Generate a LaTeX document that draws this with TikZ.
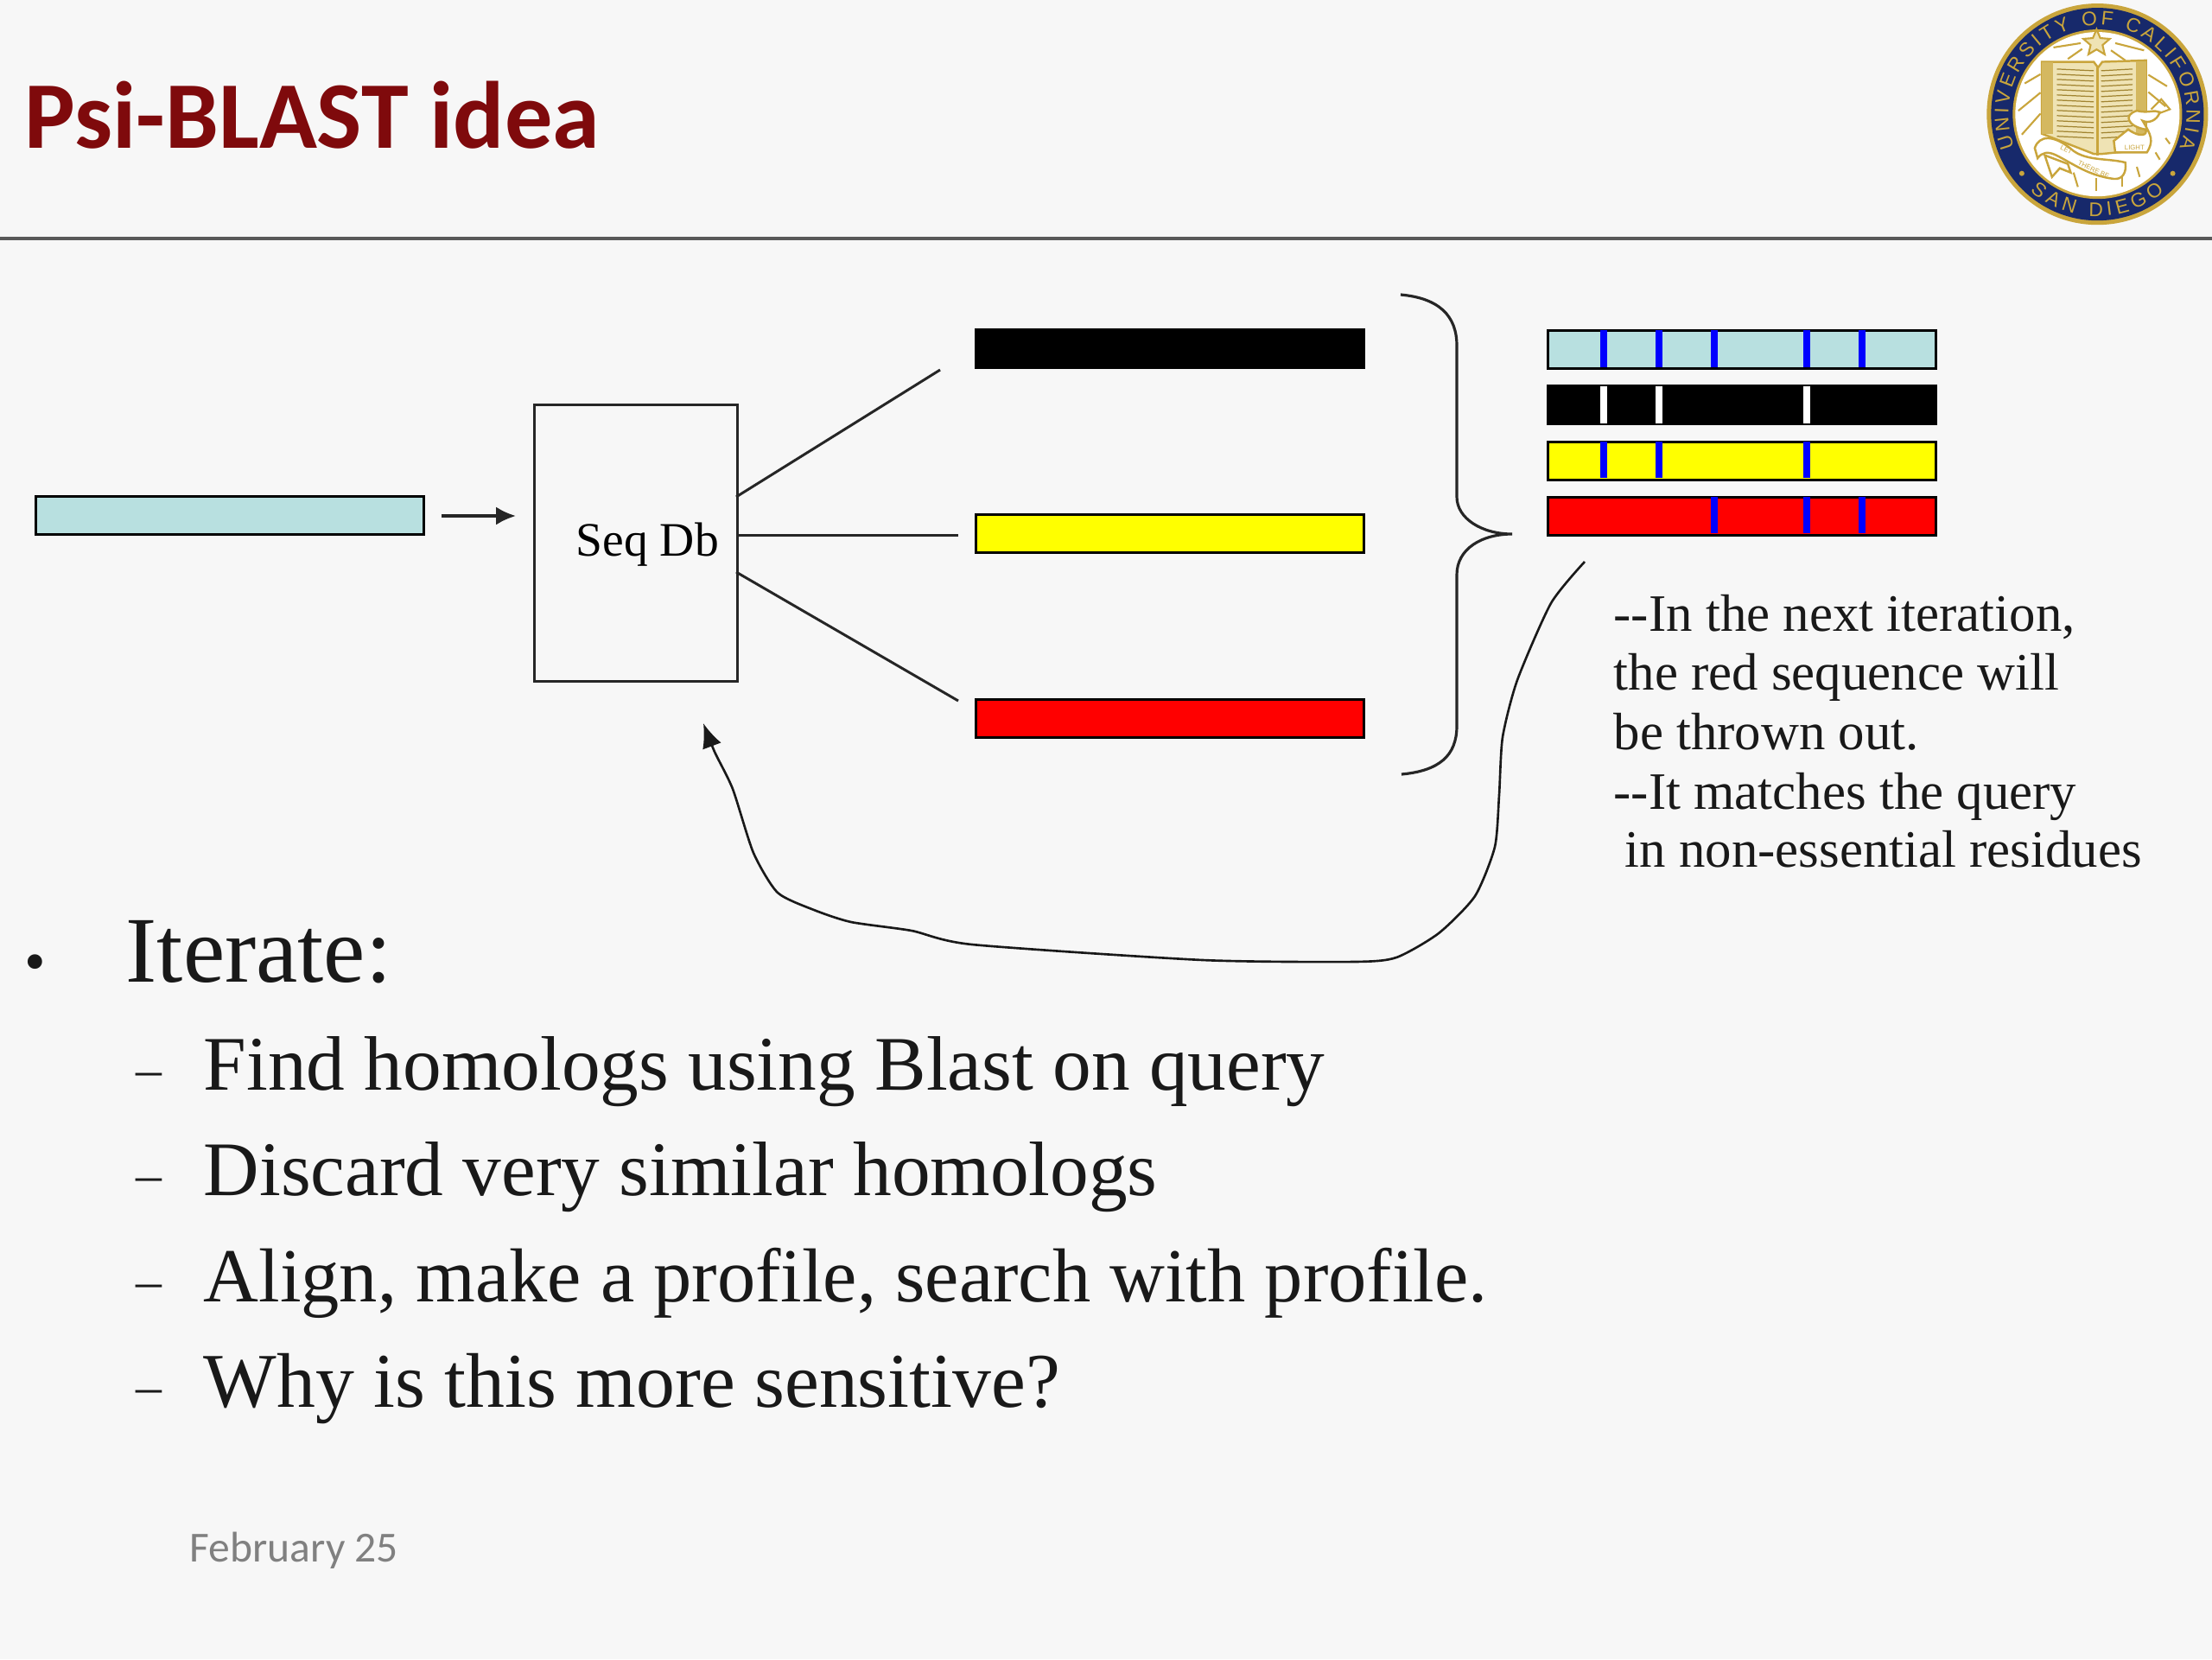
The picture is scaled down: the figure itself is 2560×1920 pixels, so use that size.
\documentclass[tikz,border=0pt]{standalone}
\usepackage{fontspec}
\setmainfont{Liberation Serif}
\newfontfamily\carlito{Carlito}
\newfontfamily\logosans{Liberation Sans}
\usetikzlibrary{arrows.meta,shapes.geometric,decorations.text,positioning}
\definecolor{slidebg}{HTML}{F7F7F7}
\definecolor{querycol}{HTML}{B8E0E0}
\definecolor{titlered}{HTML}{7F0A0C}
\definecolor{navy}{HTML}{17296B}
\definecolor{seal}{HTML}{C9A53C}
\definecolor{sealpale}{HTML}{EFE3B4}
\definecolor{pureyellow}{HTML}{FFFF00}
\definecolor{purered}{HTML}{FF0000}
\definecolor{pureblue}{HTML}{0000FF}
\tikzset{
  bar/.style={draw=black,line width=0.85pt,inner sep=0pt,minimum width=4.49cm,minimum height=0.44cm,anchor=north west},
  tick/.style={line width=2.2pt,draw=pureblue,line cap=butt},
  wtick/.style={line width=2.2pt,draw=white,line cap=butt},
  conn/.style={draw=black!85,line width=0.85pt},
  txt/.style={inner sep=0pt,anchor=base west,text=black!90},
  note/.style={txt,font=\fontsize{17.3}{20}\selectfont},
  sealline/.style={draw=seal,line width=0.6pt},
}
\begin{document}
\begin{tikzpicture}[x=0.01cm,y=-0.01cm]
\useasboundingbox (0,0) rectangle (2560,1920);
\fill[slidebg] (0,0) rectangle (2560,1920);

% title and rule
\node[txt,text=titlered,font=\carlito\bfseries\fontsize{31.4}{38}\selectfont] (title) at (28,171) {Psi-BLAST idea};
\coordinate (ruleL) at (0,276); \coordinate (ruleR) at (2560,276);
\draw[draw=black!65,line width=1pt] (ruleL) -- (ruleR);

% logo
\begin{scope}[shift={(2260,0)},x=0.003333cm,y=-0.003333cm]
  \fill[seal] (503,397) circle (1.28cm);
  \fill[navy] (503,397) circle (1.23cm);
  \fill[seal] (503,397) circle (0.98cm);
  \fill[white] (503,397) circle (0.95cm);
  \begin{scope}[shift={(503,397)}]
    \path[decorate,decoration={text along path,text align={fit to path},
      text={|\logosans\fontsize{6.5}{8}\selectfont\color{seal}|UNIVERSITY OF CALIFORNIA}}]
      (202:1.03cm) arc[start angle=202,end angle=-22,radius=1.03cm];
    \path[decorate,decoration={text along path,text align={fit to path},
      text={|\logosans\fontsize{6.5}{8}\selectfont\color{seal}|SAN DIEGO}}]
      (229:1.18cm) arc[start angle=229,end angle=311,radius=1.18cm];
  \end{scope}
  \fill[seal] (240,603) circle (0.03cm);
  \fill[seal] (765,603) circle (0.03cm);
  % rays
  \foreach \a/\b/\c/\d in {250/290/305/258,228/385/305/322,240/468/305/395,350/165/445/150,
      400/205/450/170,565/150/665/175,550/175/600/210,680/260/745/300,680/320/740/370,
      420/600/435/650,500/620/500/665,590/610/590/650,640/580/650/615,705/530/720/555,740/480/755/500}
    \draw[sealline] (\a,\b) -- (\c,\d);
  % book
  \fill[sealpale,draw=seal,line width=0.7pt] (310,215) -- (490,215) -- (505,235) -- (520,215) -- (672,210)
     -- (672,520) -- (520,535) -- (490,535) -- (310,465) -- cycle;
  \fill[seal!70!sealpale] (310,215) rectangle (348,465);
  \fill[seal!70!sealpale] (636,212) rectangle (672,520);
  \draw[draw=seal,line width=0.8pt] (503,235) -- (503,540);
  \foreach \y in {240,258,...,490} {
    \draw[draw=seal!80!black,line width=0.35pt] (362,\y) -- (490,\y+6);
    \draw[draw=seal!80!black,line width=0.35pt] (516,\y+6) -- (625,\y);
  }
  % star
  \node[star,star points=5,star point ratio=2.2,draw=seal,fill=sealpale,line width=0.6pt,inner sep=0pt,minimum size=0.32cm] (sealstar) at (500,150) {};
  % banners
  \filldraw[fill=white,draw=seal,line width=0.7pt] (320,540) -- (345,615) -- (372,585) -- (410,600) -- (400,570) -- cycle;
  \filldraw[fill=white,draw=seal,line width=0.7pt] (285,515) .. controls (300,470) and (350,465) .. (420,525)
     .. controls (470,560) and (540,550) .. (600,565) .. controls (605,600) and (590,625) .. (560,622)
     .. controls (470,610) and (420,570) .. (360,540) .. controls (330,525) and (310,530) .. (295,550) -- cycle;
  \node[rotate=-28,text=seal,inner sep=0pt,font=\logosans\fontsize{2.2}{3}\selectfont] (sealtxtA) at (395,520) {LET};
  \node[rotate=-25,text=seal,inner sep=0pt,font=\logosans\fontsize{2.2}{3}\selectfont] (sealtxtB) at (490,590) {THERE BE};
  \filldraw[fill=white,draw=seal,line width=0.7pt] (560,490) -- (610,450) .. controls (650,480) and (680,470) .. (670,450)
     .. controls (610,440) and (590,400) .. (640,385) .. controls (680,395) and (700,380) .. (720,390)
     .. controls (710,420) and (680,430) .. (660,420) .. controls (690,470) and (700,490) .. (675,530) -- (565,530) -- cycle;
  \draw[sealline] (690,380) -- (725,345) -- (755,380) -- (715,395);
  \node[text=seal,inner sep=0pt,font=\logosans\fontsize{2.2}{3}\selectfont] (sealtxtC) at (632,512) {LIGHT};
\end{scope}

% query and database
\node[bar,fill=querycol] (query) at (40,573) {};
\node[draw=black!85,line width=0.9pt,inner sep=0pt,minimum width=2.35cm,minimum height=3.2cm,anchor=north west] (db) at (617,467) {};
\node[txt,font=\fontsize{15.8}{18}\selectfont,text=black] (dblabel) at (666,643) {Seq Db};
\coordinate (qa) at (511,597); \coordinate (qb) at (597,597);
\draw[conn,line width=1pt,-{Latex[length=6.5pt,width=6pt]}] (qa) -- (qb);

% hits
\node[bar,fill=black] (hitK) at (1128,380) {};
\node[bar,fill=pureyellow] (hitY) at (1128,594) {};
\node[bar,fill=purered] (hitR) at (1128,808) {};
\coordinate (dbA) at (852,575); \coordinate (endA) at (1088,428);
\coordinate (dbB) at (852,619); \coordinate (endB) at (1109,619);
\coordinate (dbC) at (852,662); \coordinate (endC) at (1109,811);
\draw[conn] (dbA) -- (endA);
\draw[conn] (dbB) -- (endB);
\draw[conn] (dbC) -- (endC);

% brace
\coordinate (brTop) at (1621,341); \coordinate (brTip) at (1750,618); \coordinate (brBot) at (1622,896);
\draw[conn,line width=0.9pt] (brTop) .. controls (1665,345) and (1686,365) .. (1686,400)
   -- (1686,575) .. controls (1686,600) and (1715,618) .. (brTip)
   .. controls (1715,618) and (1686,635) .. (1686,665)
   -- (1686,840) .. controls (1686,875) and (1665,892) .. (brBot);

% aligned bars
\node[bar,fill=querycol] (alQ) at (1790,381) {};
\node[bar,fill=black] (alK) at (1790,445) {};
\node[bar,fill=pureyellow] (alY) at (1790,510) {};
\node[bar,fill=purered] (alR) at (1790,574) {};
\foreach \x in {1856,1920,1984,2091,2155} \draw[tick] (\x,382) -- (\x,425);
\foreach \x in {1856,1920,2091} \draw[wtick] (\x,447) -- (\x,490);
\foreach \x in {1856,1920,2091} \draw[tick] (\x,511) -- (\x,553);
\foreach \x in {1984,2091,2155} \draw[tick] (\x,575) -- (\x,617);

% feedback curve
\coordinate (fbStart) at (1834,650); \coordinate (fbEnd) at (814,837);
\draw[draw=black!90,line width=0.75pt,-{Latex[length=8pt,width=6.5pt]}]
  plot[smooth,tension=0.4] coordinates {(fbStart) (1795,698) (1756,787) (1739,853) (1735,920) (1730,980) (1707,1037) (1665,1080) (1616,1108) (1567,1113) (1392,1111) (1125,1093) (1055,1077) (985,1067) (942,1053) (900,1033) (872,987) (848,913) (827,870) (fbEnd)};

% note
\node[note] (n1) at (1867,730) {{-}{-}In the next iteration,};
\node[note] (n2) at (1867,798) {the red sequence will};
\node[note] (n3) at (1867,867) {be thrown out.};
\node[note] (n4) at (1867,936) {{-}{-}It matches the query};
\node[note] (n5) at (1880,1003) {in non-essential residues};

% bullets
\node[txt,font=\fontsize{20}{24}\selectfont] (b0) at (28,1136) {•};
\node[txt,font=\fontsize{30.9}{36}\selectfont] (i0) at (145,1136) {Iterate:};
\foreach \nm/\y/\t/\s in {a/1261/Find homologs using Blast on query/25.4,b/1383/Discard very similar homologs/25.4,c/1506/{Align, make a profile, search with profile.}/25.15,d/1628/Why is this more sensitive?/25.5} {
  \node[txt,font=\fontsize{17}{20}\selectfont] (dash\nm) at (157,\y-4) {–};
  \node[txt,font=\fontsize{\s}{30}\selectfont] (item\nm) at (235,\y) {\t};
}
\node[txt,text=black!50,font=\carlito\fontsize{14.1}{17}\selectfont] (date) at (219,1807) {February 25};
\end{tikzpicture}
\end{document}
